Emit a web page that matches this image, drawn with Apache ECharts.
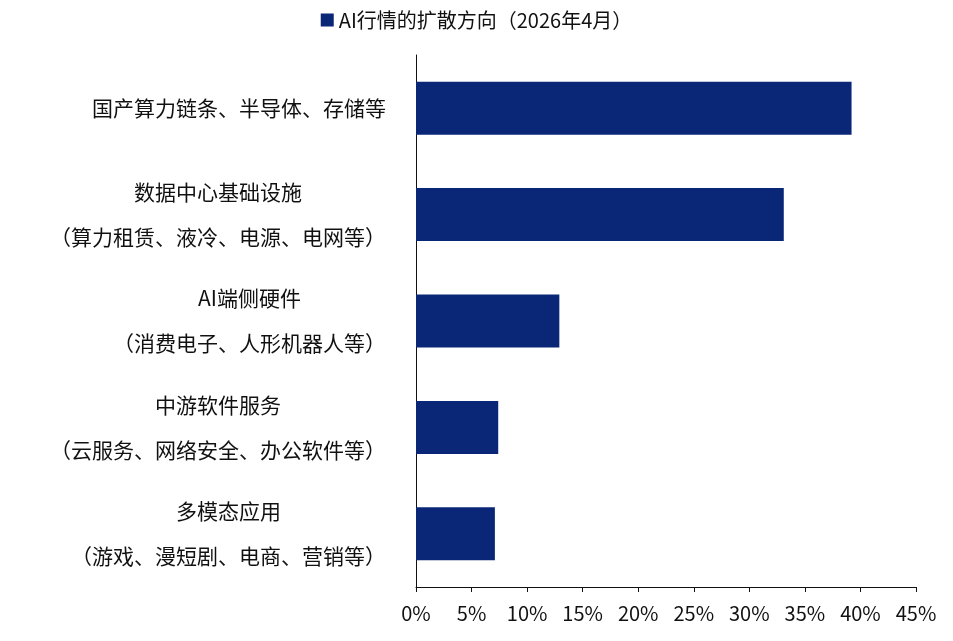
<!DOCTYPE html>
<html><head><meta charset="utf-8">
<script src="https://cdn.jsdelivr.net/npm/echarts@6/dist/echarts.min.js"></script>
<style>html,body{margin:0;padding:0;background:#fff}#c{width:953px;height:641px}</style>
</head><body><div id="c"></div>
<script>
const categories = [
  "国产算力链条、半导体、存储等",
  "数据中心基础设施\n（算力租赁、液冷、电源、电网等）",
  "AI端侧硬件\n（消费电子、人形机器人等）",
  "中游软件服务\n（云服务、网络安全、办公软件等）",
  "多模态应用\n（游戏、漫短剧、电商、营销等）"
];
const values = [39.2, 33.1, 12.9, 7.4, 7.1];
const seriesName = "AI行情的扩散方向（2026年4月）";
const FONT = "Noto Sans CJK SC";
const FS = 21;
const ctx = document.createElement('canvas').getContext('2d');
ctx.font = FS + "px '" + FONT + "'";
const chart = echarts.init(document.getElementById('c'));
chart.setOption({
  textStyle:{fontFamily:FONT},
  legend:{top:5,left:'center',itemWidth:13,itemHeight:13,icon:'rect',textStyle:{fontSize:20,color:'#111'},data:[seriesName]},
  grid:{left:416,right:37,top:55,bottom:54,containLabel:false},
  xAxis:{type:'value',min:0,max:45,interval:5,
    axisLabel:{formatter:'{value}%',fontSize:20,color:'#111',margin:16},
    splitLine:{show:false},axisLine:{show:true,lineStyle:{color:'#111'}},axisTick:{show:true,length:5,lineStyle:{color:'#111'}}},
  yAxis:{type:'category',inverse:true,data:categories,
    axisLabel:{color:'#111',margin:30,align:'right',
      formatter:function(v){
        const lines=v.split('\n');
        const w=Math.ceil(Math.max(...lines.map(l=>ctx.measureText(l).width)));
        this && 0;
        return lines.map(l=>'{a|'+l+'}').join('\n').replace(/\{a\|/g,'{a'+w+'|');
      },
      rich:(function(){const r={};for(let w=50;w<500;w++){r['a'+w]={width:w,align:'center',fontSize:FS,lineHeight:45,color:'#111',fontFamily:FONT};}return r;})()
    },
    axisLine:{lineStyle:{color:'#111'}},axisTick:{show:false}},
  series:[{name:seriesName,type:'bar',data:values,barWidth:53,itemStyle:{color:'#0a2676'}}]
});
</script></body></html>
